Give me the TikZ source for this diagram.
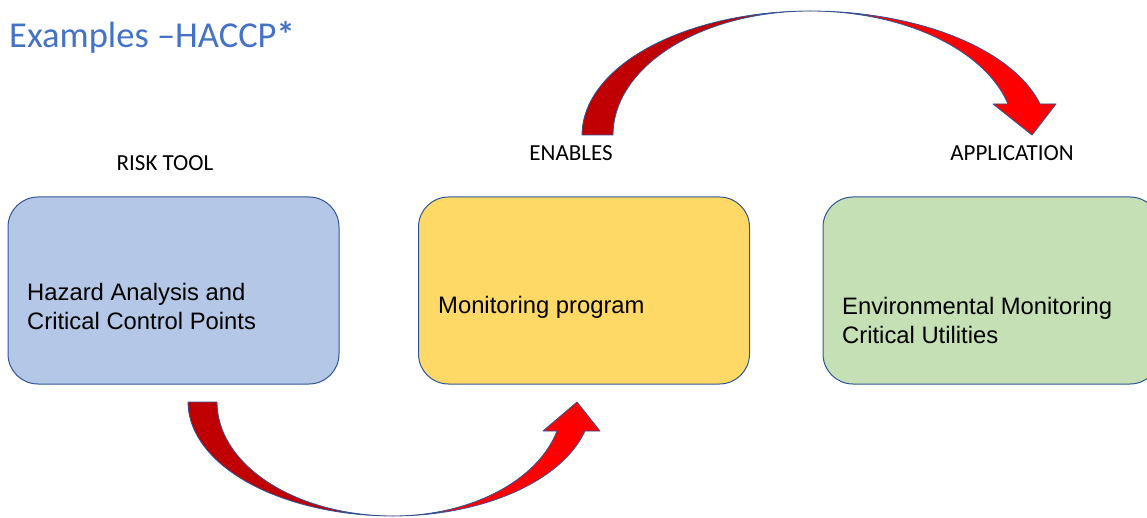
\documentclass[tikz,border=0pt]{standalone}
\usepackage{fontspec}
\setmainfont{Carlito}
\newfontfamily\boxfont{Liberation Sans}
\definecolor{titleblue}{HTML}{4472C4}
\definecolor{edgeblue}{HTML}{2F5597}
\definecolor{riskfill}{HTML}{B4C7E7}
\definecolor{monfill}{HTML}{FFD966}
\definecolor{appfill}{HTML}{C5E0B4}
\definecolor{darkred}{HTML}{C00000}
\definecolor{brightred}{HTML}{FF0000}
\begin{document}
\begin{tikzpicture}[x=1pt,y=-1pt,
  box/.style={draw=edgeblue, line width=1pt, rounded corners=30pt, minimum width=331pt, minimum height=187pt, inner sep=0pt},
  boxtext/.style={anchor=west, align=left, inner sep=0pt, font=\boxfont\fontsize{23.8}{29}\selectfont},
  head/.style={font=\fontsize{23}{27}\selectfont, inner sep=0pt},
  bandA/.style={fill=darkred, draw=edgeblue, line width=0.8pt, line join=round},
  bandB/.style={fill=brightred, draw=edgeblue, line width=0.8pt, line join=round}]
\useasboundingbox (0,0) rectangle (1147,518);
\clip (0,0) rectangle (1147,518);

% title
\node[anchor=west, inner sep=0pt, text=titleblue, font=\fontsize{36.5}{40}\selectfont] (title) at (9,37) {Examples –HACCP\textbf{*}};

% column headings
\node[head] (h1) at (165,163) {RISK TOOL};
\node[head] (h2) at (571,153) {ENABLES};
\node[head] (h3) at (1012,153) {APPLICATION};

% boxes
\node[box, fill=riskfill] (risk) at (173.5,290.5) {};
\node[box, fill=monfill] (mon) at (584,290.5) {};
\node[box, fill=appfill, minimum width=337pt] (app) at (991.5,290.5) {};

\node[boxtext] (t1) at (27,306.5) {Hazard Analysis and\\Critical Control Points};
\node[boxtext] (t2) at (438,307.5) {Monitoring program};
\node[boxtext] (t3) at (842,320) {Environmental Monitoring\\Critical Utilities};

% lower curved arrow: risk tool -> monitoring program
\path[bandA] plot[domain=180:90, samples=40] ({393+205*cos(\x)},{402+114*sin(\x)})
  -- plot[domain=90:180, samples=40] ({393+176*cos(\x)},{402+114*sin(\x)}) -- cycle;
\path[bandB] plot[domain=90:14.74, samples=40] ({393+198.5*cos(\x)},{402+114*sin(\x)})
  -- (600,431) -- (577,402) -- (543,431)
  -- plot[domain=14.74:90, samples=40] ({393+169.6*cos(\x)},{402+114*sin(\x)}) -- cycle;

% upper curved arrow: monitoring program -> application
\path[bandA] plot[domain=180:270, samples=40] ({810+228*cos(\x)},{135+124*sin(\x)})
  -- plot[domain=270:180, samples=40] ({810+197*cos(\x)},{135+124*sin(\x)}) -- cycle;
\path[bandB] plot[domain=270:345.52, samples=40] ({810+237.6*cos(\x)},{135+124*sin(\x)})
  -- (1056,104) -- (1032,135) -- (993,104)
  -- plot[domain=345.52:270, samples=40] ({810+204.5*cos(\x)},{135+124*sin(\x)}) -- cycle;
\end{tikzpicture}
\end{document}
